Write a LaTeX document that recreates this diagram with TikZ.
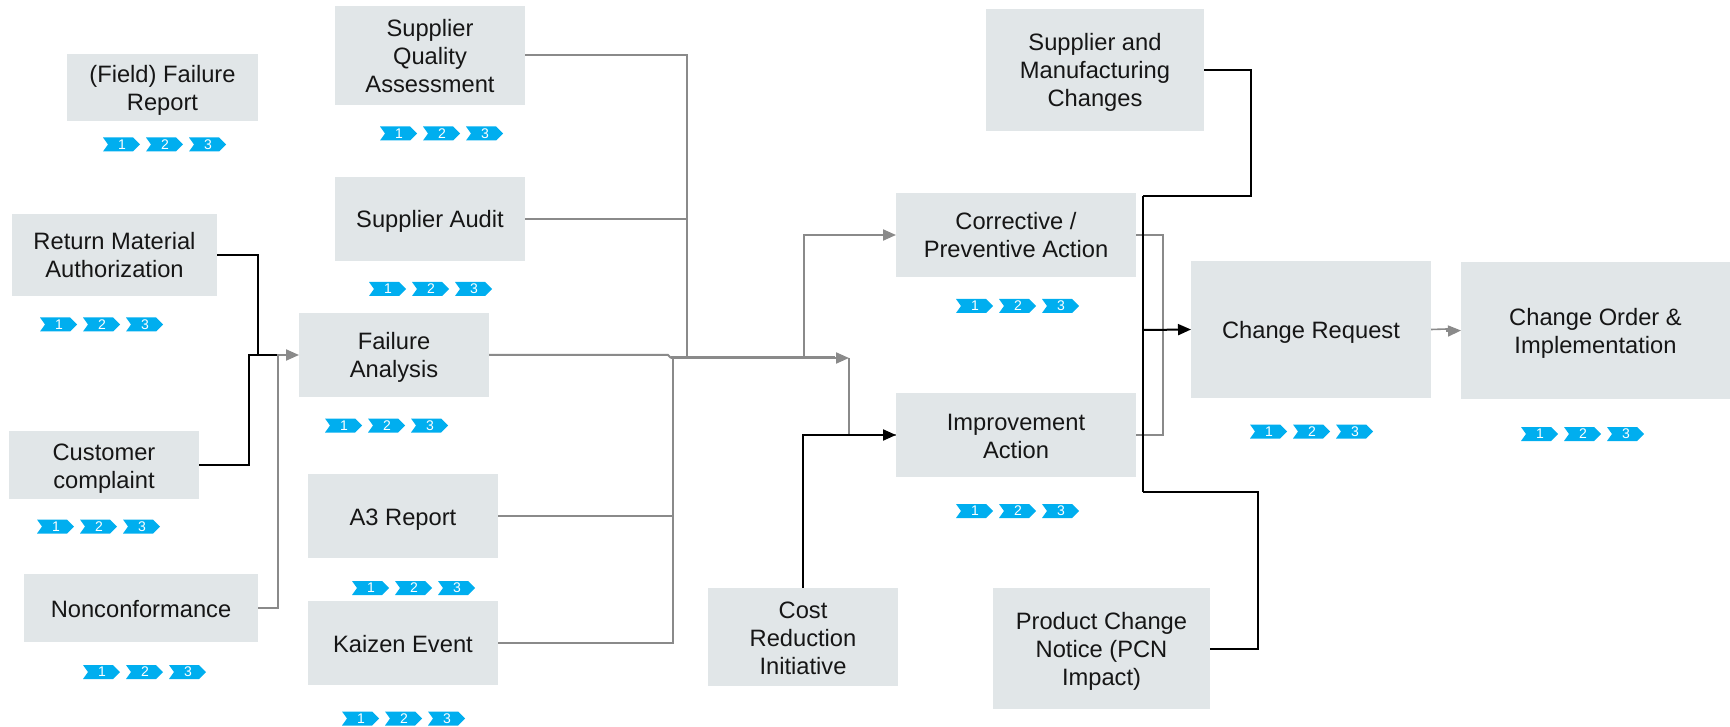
\documentclass[tikz,border=0pt]{standalone}
\usepackage{fontspec}
\setmainfont{Liberation Sans}
\usetikzlibrary{arrows.meta}
\definecolor{boxfill}{HTML}{E1E6E8}
\definecolor{linegray}{HTML}{8A8A8A}
\definecolor{badgeblue}{HTML}{00AEEF}
\definecolor{boxtext}{HTML}{161616}
\tikzset{
  boxnode/.style={fill=boxfill,text=boxtext,inner sep=0pt,outer sep=0pt,
    font=\fontsize{23.7}{28}\selectfont},
  tip/.style={-{Triangle[length=13pt,width=11pt]}},
  gline/.style={draw=linegray,line width=2pt,line join=miter},
  bline/.style={draw=black,line width=2pt,line join=miter},
  badgedigit/.style={text=white,inner sep=0pt,font=\fontsize{14}{14}\selectfont},
}
\newcommand{\bx}[7]{% name, x1, y1, x2, y2, text
  \pgfmathsetlengthmacro{\bw}{#4-#2}\pgfmathsetlengthmacro{\bh}{#5-#3}
  \node[boxnode,minimum width=\bw,minimum height=\bh] (#1) at ({(#2+#4)/2},{(#3+#5)/2})
    {\parbox{\bw}{\centering\rule{0pt}{24pt}#6\rule[-6pt]{0pt}{6pt}}};}
\newcommand{\badges}[3]{% name, left x, centre y
  \foreach \i/\off in {1/0,2/43,3/86}{
    \fill[badgeblue] ({#2+\off},{#3-7}) -- ++(30,0) -- ++(7,7) -- ++(-7,7) -- ++(-30,0) -- ++(5,-7) -- cycle;
    \node[badgedigit] (#1-\i) at ({#2+\off+19},{#3}) {\i};
  }}
\begin{document}
\begin{tikzpicture}[x=1pt,y=-1pt]
\useasboundingbox (0,0) rectangle (1730,727);
\bx{ffr}{67}{54}{258}{121}{(Field) Failure\\Report}{}
\bx{sqa}{335}{6}{525}{105}{Supplier\\Quality\\Assessment}{}
\bx{sa}{335}{177}{525}{261}{Supplier Audit}{}
\bx{rma}{12}{214}{217}{296}{Return Material\\Authorization}{}
\bx{fa}{299}{313}{489}{397}{Failure\\Analysis}{}
\bx{cc}{9}{431}{199}{499}{Customer\\complaint}{}
\bx{nc}{24}{574}{258}{642}{Nonconformance}{}
\bx{a3}{308}{474}{498}{558}{A3 Report}{}
\bx{ke}{308}{601}{498}{685}{Kaizen Event}{}
\bx{cri}{708}{588}{898}{686}{Cost\\Reduction\\Initiative}{}
\bx{cpa}{896}{193}{1136}{277}{Corrective /\\Preventive Action}{}
\bx{ia}{896}{393}{1136}{477}{Improvement\\Action}{}
\bx{smc}{986}{9}{1204}{131}{Supplier and\\Manufacturing\\Changes}{}
\bx{cr}{1191}{261}{1431}{398}{Change Request}{}
\bx{co}{1461}{262}{1730}{399}{Change Order \&\\Implementation}{}
\bx{pcn}{993}{588}{1210}{709}{Product Change\\Notice (PCN\\Impact)}{}
% junctions
\coordinate (merge) at (849,358);
\coordinate (busL) at (673,358);
\coordinate (busS) at (687,358);
\coordinate (busC) at (804,358);
\coordinate (busT) at (1143,196);
\coordinate (busB) at (1143,492);
\coordinate (busM) at (1143,330);
% black feeders of Failure Analysis
\draw[bline] (rma.east) -- (258,255) -- (258,355) -- (278,355);
\draw[bline] (cc.east) -- (249,465) -- (249,355) -- (278,355);
\draw[gline,tip] (nc.east) -- (278,608) -- (278,355) -- (fa.west);
% into the central merge
\draw[gline] (sqa.east) -| (busS);
\draw[gline] (sa.east) -| (busS);
\draw[gline] (a3.east) -| (busL);
\draw[gline] (ke.east) -| (busL);
\draw[gline] (fa.east) -- (668,355) -- (671,358);
\draw[gline,line width=3pt] (671,357.5) -- (835,357.5);
\draw[gline,tip] (busL) -- (merge);
\draw[gline,tip] (busC) |- (cpa.west);
\draw[gline] (merge) |- (ia.west);
\draw[bline,tip] (cri.north) |- (ia.west);
% right bracket and bus
\draw[gline] (cpa.east) -| (1163,330);
\draw[gline] (ia.east) -| (1163,330);
\draw[bline] (smc.east) -| (1251,196) -- (busT);
\draw[bline] (pcn.east) -| (1258,492) -- (busB);
\draw[bline] (busT) -- (busB);
\draw[bline,tip] (busM) -- (cr.west);
\draw[gline,tip,line width=1.6pt] (cr.east) -- (1447,329) -- (1447,331) -- (co.west);
% badges
\badges{b1}{103}{144.5}
\badges{b2}{380}{133.5}
\badges{b3}{369}{289}
\badges{b4}{40}{324.5}
\badges{b5}{325}{425.5}
\badges{b6}{37}{526.5}
\badges{b7}{83}{672}
\badges{b8}{352}{588}
\badges{b9}{342}{718.5}
\badges{b10}{956}{306}
\badges{b11}{956}{511}
\badges{b12}{1250}{431.5}
\badges{b13}{1521}{434}
\end{tikzpicture}
\end{document}
